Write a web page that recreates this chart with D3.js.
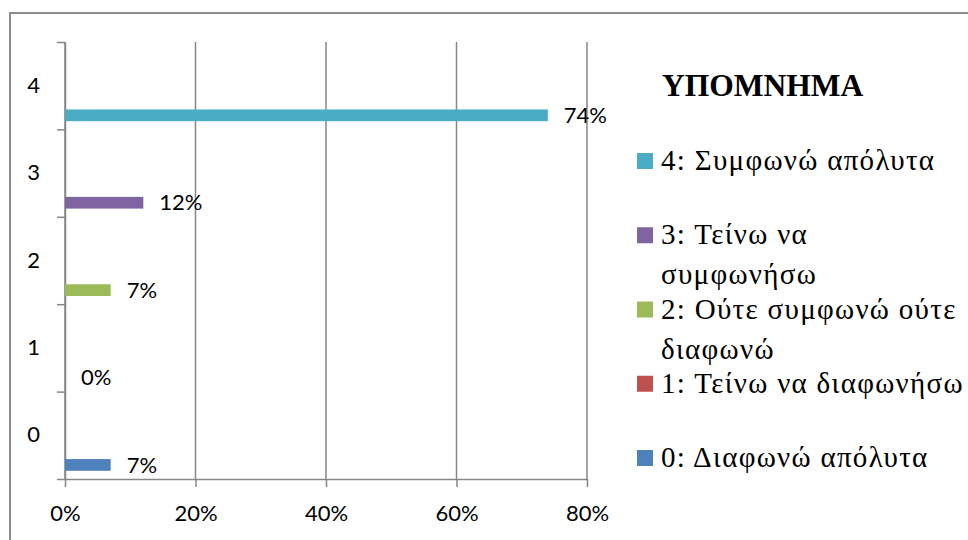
<!DOCTYPE html>
<html>
<head>
<meta charset="utf-8">
<script src="https://cdn.jsdelivr.net/npm/d3@7"></script>
<style>
  body { margin: 0; background: #fff; }
  .axis text { font-family: Lato, "Open Sans", sans-serif; font-size: 22px; fill: #000; }
  .axis line, .axis path { stroke: #868686; stroke-width: 1.5; }
  .value-label { font-family: Lato, "Open Sans", sans-serif; font-size: 22px; fill: #000; }
  .legend text { font-family: "Liberation Serif", "Times New Roman", serif; font-size: 29px; letter-spacing: 1.3px; fill: #000; }
  .legend text.legend-title { font-weight: bold; font-size: 31.5px; letter-spacing: 0; }
</style>
</head>
<body>
<div id="chart"></div>
<script>
// categories, bottom to top
var categories = ["0", "1", "2", "3", "4"];
var values = [0.07, 0.0, 0.07, 0.12, 0.74];
var valueLabels = ["7%", "0%", "7%", "12%", "74%"];
var colors = ["#4F81BD", "#C0504D", "#9BBB59", "#8064A2", "#4BACC6"];
var xTicks = [0, 0.2, 0.4, 0.6, 0.8];
var legendTitle = "ΥΠΟΜΝΗΜΑ";
var legendLabels = [
  ["0: Διαφωνώ απόλυτα"],
  ["1: Τείνω να διαφωνήσω"],
  ["2: Ούτε συμφωνώ ούτε", "διαφωνώ"],
  ["3: Τείνω να", "συμφωνήσω"],
  ["4: Συμφωνώ απόλυτα"]
];

var baseWidth = 968;
var baseHeight = 540;
var plot = {left: 65, right: 587, top: 42, bottom: 479};

var svg = d3.select("#chart")
  .append("svg")
  .attr("width", baseWidth)
  .attr("height", baseHeight);

// outer frame (top and left edges visible)
svg.append("path")
  .attr("d", "M10," + baseHeight + "V13H" + baseWidth)
  .attr("fill", "none")
  .attr("stroke", "#8c8c8c")
  .attr("stroke-width", 2);

var x = d3.scaleLinear()
  .domain([0, 0.8])
  .range([plot.left, plot.right]);

var y = d3.scaleBand()
  .domain(categories)
  .range([plot.bottom, plot.top]);

var yEdge = d3.scaleLinear()
  .domain([0, categories.length])
  .range([plot.bottom, plot.top]);

// vertical gridlines
svg.append("g")
  .selectAll("line")
  .data(xTicks)
  .enter()
  .append("line")
  .attr("x1", function(d) { return x(d); })
  .attr("x2", function(d) { return x(d); })
  .attr("y1", plot.top)
  .attr("y2", plot.bottom)
  .attr("stroke", "#868686")
  .attr("stroke-width", 1.5);

// x axis
svg.append("g")
  .attr("class", "axis")
  .attr("transform", "translate(0," + plot.bottom + ")")
  .call(d3.axisBottom(x)
    .tickValues(xTicks)
    .tickFormat(d3.format(".0%"))
    .tickSize(8)
    .tickSizeOuter(0)
    .tickPadding(18));

// y axis tick marks at category edges
svg.append("g")
  .attr("class", "axis")
  .attr("transform", "translate(" + plot.left + ",0)")
  .call(d3.axisLeft(yEdge)
    .tickValues(d3.range(categories.length + 1))
    .tickFormat("")
    .tickSize(8)
    .tickSizeOuter(0));

// y axis labels
svg.append("g")
  .attr("class", "axis")
  .attr("transform", "translate(" + plot.left + ",0)")
  .call(d3.axisLeft(y).tickSize(0).tickPadding(25))
  .call(function(g) { g.select(".domain").remove(); });

// bars
var bw = y.bandwidth();
svg.append("g")
  .selectAll("rect")
  .data(values)
  .enter()
  .append("rect")
  .attr("x", x(0))
  .attr("y", function(d, i) { return y(categories[i]) + bw * 0.772; })
  .attr("width", function(d) { return x(d) - x(0); })
  .attr("height", bw * 0.134)
  .attr("fill", function(d, i) { return colors[i]; });

// value labels
svg.append("g")
  .selectAll("text")
  .data(values)
  .enter()
  .append("text")
  .attr("class", "value-label")
  .attr("x", function(d) { return x(d) + 16; })
  .attr("y", function(d, i) { return y(categories[i]) + bw * 0.839; })
  .attr("dy", "0.35em")
  .text(function(d, i) { return valueLabels[i]; });

// legend
var legend = svg.append("g").attr("class", "legend");

legend.append("text")
  .attr("class", "legend-title")
  .attr("x", 662)
  .attr("y", 96)
  .text(legendTitle);

var legendOrder = d3.range(categories.length).reverse();
var ly = d3.scaleLinear().domain([0, 4]).range([170, 467]);

var item = legend.selectAll(".legend-item")
  .data(legendOrder)
  .enter()
  .append("g")
  .attr("class", "legend-item")
  .attr("transform", function(d, i) { return "translate(637," + ly(i) + ")"; });

item.append("rect")
  .attr("x", 0)
  .attr("y", -17)
  .attr("width", 16)
  .attr("height", 16)
  .attr("fill", function(d) { return colors[d]; });

item.append("text")
  .selectAll("tspan")
  .data(function(d) { return legendLabels[d]; })
  .enter()
  .append("tspan")
  .attr("x", 24)
  .attr("y", function(d, i) { return i * 40; })
  .text(function(d) { return d; });
</script>
</body>
</html>
